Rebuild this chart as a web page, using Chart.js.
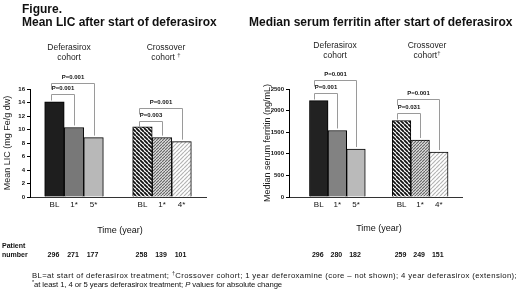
<!DOCTYPE html>
<html><head><meta charset="utf-8">
<script src="https://cdn.jsdelivr.net/npm/chart.js@4.4.0/dist/chart.umd.min.js"></script>
<style>
html,body{margin:0;padding:0;background:#fff;}
body{width:520px;height:298px;position:relative;overflow:hidden;font-family:"Liberation Sans",Arial,sans-serif;color:#111;}
.abs{position:absolute;white-space:nowrap;}
canvas{position:absolute;top:0;}
.ttl{font-weight:bold;font-size:12px;line-height:12px;}
.grp{font-size:8.5px;line-height:10px;text-align:center;width:80px;color:#222;}
.time{font-size:9px;line-height:10px;text-align:center;width:80px;}
.pat{font-size:7px;line-height:9px;font-weight:bold;}
.foot{font-size:8px;line-height:8.5px;}
sup{font-size:70%;line-height:0;vertical-align:3px;}
</style></head><body>
<canvas id="c1" width="260" height="298" style="left:0"></canvas>
<canvas id="c2" width="260" height="298" style="left:260px"></canvas>

<div class="abs ttl" style="left:22px;top:3px">Figure.</div>
<div class="abs ttl" style="left:22px;top:16px">Mean LIC after start of deferasirox</div>
<div class="abs ttl" style="left:249px;top:16px">Median serum ferritin after start of deferasirox</div>

<div class="abs grp" style="left:29px;top:42px">Deferasirox<br>cohort</div>
<div class="abs grp" style="left:126px;top:42px">Crossover<br>cohort <sup>†</sup></div>
<div class="abs grp" style="left:295px;top:40px">Deferasirox<br>cohort</div>
<div class="abs grp" style="left:387px;top:40px">Crossover<br>cohort<sup>†</sup></div>

<div class="abs time" style="left:80px;top:225px">Time (year)</div>
<div class="abs time" style="left:339px;top:223px">Time (year)</div>

<div class="abs pat" style="left:2px;top:241px">Patient<br>number</div>

<div class="abs foot" id="f1" style="left:32px;top:272px">BL=at start of deferasirox treatment; <sup>†</sup>Crossover cohort; 1 year deferoxamine (core – not shown); 4 year deferasirox (extension);</div>
<div class="abs foot" id="f2" style="left:32px;top:280.5px"><sup>*</sup>at least 1, 4 or 5 years deferasirox treatment; <i>P</i> values for absolute change</div>

<script>
// ---------- data ----------
const licLabels = ['BL', '1*', '5*', 'BL', '1*', '4*'];
const licValues = [14.1, 10.3, 8.8, 10.4, 8.8, 8.2];
const licPatients = [296, 271, 177, 258, 139, 101];
const licYTicks = [0, 2, 4, 6, 8, 10, 12, 14, 16];

const ferLabels = ['BL', '1*', '5*', 'BL', '1*', '4*'];
const ferValues = [2230, 1540, 1110, 1770, 1320, 1040];
const ferPatients = [296, 280, 182, 259, 249, 151];
const ferYTicks = [0, 500, 1000, 1500, 2000, 2500];

// P-value brackets: bar index from -> to, bracket level (axis units)
const licBrackets = [
  {from: 0, to: 1, level: 15.2, label: 'P=0.001'},
  {from: 0, to: 2, level: 16.9, label: 'P=0.001'},
  {from: 3, to: 4, level: 11.3, label: 'P=0.003'},
  {from: 3, to: 5, level: 13.2, label: 'P=0.001'}
];
const ferBrackets = [
  {from: 0, to: 1, level: 2408, label: 'P=0.001'},
  {from: 0, to: 2, level: 2718, label: 'P=0.001'},
  {from: 3, to: 4, level: 1956, label: 'P=0.031'},
  {from: 3, to: 5, level: 2268, label: 'P=0.001'}
];

// ---------- helpers ----------
const FONT = '"Liberation Sans", Arial, sans-serif';

function hatch(ctx, bg, fg, dir, size, lw) {
  const c = document.createElement('canvas');
  c.width = c.height = size;
  const g = c.getContext('2d');
  g.fillStyle = bg; g.fillRect(0, 0, size, size);
  g.strokeStyle = fg; g.lineWidth = lw;
  g.beginPath();
  for (let k = -1; k <= 1; k++) {
    if (dir === 'back') { g.moveTo(k * size, 0); g.lineTo(k * size + size, size); }
    else { g.moveTo(k * size, size); g.lineTo(k * size + size, 0); }
  }
  g.stroke();
  return ctx.createPattern(c, 'repeat');
}

const bracketPlugin = {
  id: 'brackets',
  afterDatasetsDraw(chart, args, opts) {
    const {ctx, scales: {x, y}} = chart;
    const pts = chart.data.datasets[0].data;
    ctx.save();
    ctx.strokeStyle = '#9a9a9a';
    ctx.lineWidth = 1;
    ctx.font = 'bold 6px ' + FONT;
    ctx.fillStyle = '#111';
    ctx.textAlign = 'center';
    ctx.textBaseline = 'alphabetic';
    opts.items.forEach(b => {
      const xa = Math.round(x.getPixelForValue(pts[b.from].x) - opts.dxL) + 0.5;
      const xb = Math.round(x.getPixelForValue(pts[b.to].x) + opts.dxR) + 0.5;
      const yl = Math.round(y.getPixelForValue(b.level)) + 0.5;
      const yb = y.getPixelForValue(pts[b.to].y) - 2;
      ctx.beginPath();
      ctx.moveTo(xa, yl + 6);
      ctx.lineTo(xa, yl);
      ctx.lineTo(xb, yl);
      ctx.lineTo(xb, yb);
      ctx.stroke();
      ctx.fillText(b.label, (xa + xb) / 2, yl - 4.5);
    });
    // patient numbers row
    ctx.font = 'bold 7px ' + FONT;
    ctx.fillStyle = '#111';
    opts.patients.forEach((n, i) => {
      ctx.fillText(String(n), x.getPixelForValue(pts[i].x) - 1, 257);
    });
    ctx.restore();
  }
};

function makeChart(id, cfg) {
  const canvas = document.getElementById(id);
  const ctx = canvas.getContext('2d');
  const data = cfg.values.map((v, i) => ({x: cfg.xPos[i], y: v}));
  const bg = [
    cfg.solid[0], cfg.solid[1], cfg.solid[2],
    hatch(ctx, '#ffffff', '#111111', 'back', 4, 1.8),
    hatch(ctx, '#ffffff', '#6a6a6a', 'fwd', 3, 1.3),
    hatch(ctx, '#ffffff', '#b4b4b4', 'fwd', 4, 1.2)
  ];
  return new Chart(ctx, {
    type: 'bar',
    data: {
      datasets: [{
        data: data,
        backgroundColor: bg,
        borderColor: '#000',
        borderWidth: 1,
        barPercentage: 1,
        categoryPercentage: 1
      }]
    },
    plugins: [bracketPlugin],
    options: {
      responsive: false,
      animation: false,
      events: [],
      layout: {padding: {top: 89, right: cfg.padRight, left: 0, bottom: 0}},
      plugins: {
        legend: {display: false},
        tooltip: {enabled: false},
        brackets: {items: cfg.brackets, patients: cfg.patients, dxL: cfg.dxL, dxR: 0}
      },
      scales: {
        x: {
          type: 'linear',
          min: 0, max: cfg.xMax,
          offset: false,
          bounds: 'data',
          afterFit: s => { s.height = 101; },
          afterBuildTicks: s => { s.ticks = cfg.xPos.map(v => ({value: v})); },
          grid: {display: false, offset: false, drawTicks: false, tickLength: 0},
          border: {display: true, color: '#333', width: 1},
          ticks: {
            autoSkip: false, maxRotation: 0, padding: 3,
            color: '#111',
            font: {family: FONT, size: 8},
            callback: (v, i) => cfg.labels[i]
          }
        },
        y: {
          min: 0, max: cfg.yTicks[cfg.yTicks.length - 1],
          afterFit: s => { s.width = cfg.yWidth; },
          afterBuildTicks: s => { s.ticks = cfg.yTicks.map(v => ({value: v})); },
          grid: {drawOnChartArea: false, drawTicks: true, tickLength: 3, color: '#000'},
          border: {display: true, color: '#000', width: 1},
          ticks: {
            padding: 2, color: '#111',
            font: {family: FONT, size: 6, weight: 'bold'},
            callback: v => String(v)
          },
          title: {
            display: true, text: cfg.yTitle, color: '#222',
            font: {family: FONT, size: 9},
            padding: {top: 2, bottom: 0}
          }
        }
      }
    }
  });
}

makeChart('c1', {
  values: licValues, labels: licLabels, patients: licPatients, yTicks: licYTicks,
  brackets: licBrackets,
  xPos: [1.25, 2.25, 3.25, 5.75, 6.75, 7.75], xMax: 9,
  padRight: 54, yWidth: 30, dxL: 3,
  solid: ['#1e1e1e', '#787878', '#b8b8b8'],
  yTitle: 'Mean LIC (mg Fe/g dw)'
});
makeChart('c2', {
  values: ferValues, labels: ferLabels, patients: ferPatients, yTicks: ferYTicks,
  brackets: ferBrackets,
  xPos: [1.6, 2.6, 3.6, 6.05, 7.05, 8.05], xMax: 9.3,
  padRight: 58, yWidth: 29, dxL: 5,
  solid: ['#222222', '#828282', '#bababa'],
  yTitle: 'Median serum ferritin (ng/mL)'
});

// footnote: one shared font size, letter spacing tuned so each line spans its reference width
(function () {
  const e1 = document.getElementById('f1'), e2 = document.getElementById('f2');
  const w1 = e1.getBoundingClientRect().width, w2 = e2.getBoundingClientRect().width;
  const fs = 8 * (485 / w1) * 0.9;
  [[e1, w1, 485], [e2, w2, 250]].forEach(([el, w, target]) => {
    el.style.fontSize = fs.toFixed(2) + 'px';
    const n = el.textContent.length;
    const natural = w * fs / 8;
    el.style.letterSpacing = ((target - natural) / n).toFixed(3) + 'px';
  });
})();
</script>
</body></html>
